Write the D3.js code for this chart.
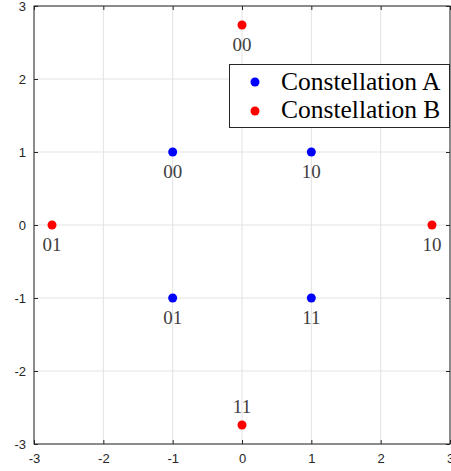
<!DOCTYPE html>
<html>
<head>
<meta charset="utf-8">
<script src="https://cdn.jsdelivr.net/npm/d3@7"></script>
<style>
  body { margin: 0; background: #fff; }
  svg { display: block; }
</style>
</head>
<body>
<div id="vis-container"></div>
<script>
// data
var seriesNames = ['Constellation A', 'Constellation B']
var seriesColors = ['#0000ff', '#ff0000']
var pointsA = [
  { x: -1, y: 1, label: '00' },
  { x: 1, y: 1, label: '10' },
  { x: -1, y: -1, label: '01' },
  { x: 1, y: -1, label: '11' }
]
var pointsB = [
  { x: 0, y: 2.74, label: '00', above: false },
  { x: -2.74, y: 0, label: '01', above: false },
  { x: 2.74, y: 0, label: '10', above: false },
  { x: 0, y: -2.74, label: '11', above: true }
]
var tickValues = [-3, -2, -1, 0, 1, 2, 3]

var W = 451, H = 471
var margin = { top: 6, right: 1, bottom: 27, left: 34 }
var w = W - margin.left - margin.right
var h = H - margin.top - margin.bottom

var xScale = d3.scaleLinear().domain([-3, 3]).range([0, w])
var yScale = d3.scaleLinear().domain([-3, 3]).range([h, 0])
var fmt = function (d) { return String(d) }

var svg = d3.select('#vis-container').append('svg')
    .attr('width', W)
    .attr('height', H)
  .append('g')
    .attr('transform', 'translate(' + margin.left + ',' + margin.top + ')')

// grid
svg.selectAll('.gx').data(tickValues).enter().append('line')
  .attr('x1', function (d) { return xScale(d) }).attr('x2', function (d) { return xScale(d) })
  .attr('y1', 0).attr('y2', h)
  .attr('stroke', '#e3e3e3').attr('stroke-width', 1)
svg.selectAll('.gy').data(tickValues).enter().append('line')
  .attr('y1', function (d) { return yScale(d) }).attr('y2', function (d) { return yScale(d) })
  .attr('x1', 0).attr('x2', w)
  .attr('stroke', '#e3e3e3').attr('stroke-width', 1)

// axes (box style, ticks inward)
function styleAxis(g) {
  g.select('.domain').remove()
  g.selectAll('.tick line').attr('stroke', '#262626')
  g.selectAll('.tick text').attr('fill', '#262626')
    .style('font-family', 'Liberation Sans, Arial, sans-serif').style('font-size', '13px')
}
svg.append('g').attr('transform', 'translate(0,' + h + ')')
  .call(d3.axisBottom(xScale).tickValues(tickValues).tickFormat(fmt).tickSizeInner(-4).tickSizeOuter(0).tickPadding(10))
  .call(styleAxis)
svg.append('g')
  .call(d3.axisLeft(yScale).tickValues(tickValues).tickFormat(fmt).tickSizeInner(-4).tickSizeOuter(0).tickPadding(8))
  .call(styleAxis)
svg.append('g')
  .call(d3.axisTop(xScale).tickValues(tickValues).tickSizeInner(-4).tickSizeOuter(0).tickFormat(''))
  .call(styleAxis)
svg.append('g').attr('transform', 'translate(' + w + ',0)')
  .call(d3.axisRight(yScale).tickValues(tickValues).tickSizeInner(-4).tickSizeOuter(0).tickFormat(''))
  .call(styleAxis)

svg.append('rect')
  .attr('x', 0).attr('y', 0).attr('width', w).attr('height', h)
  .attr('fill', 'none').attr('stroke', '#262626').attr('stroke-width', 1)

// points
function drawSeries(data, color) {
  svg.selectAll(null).data(data).enter().append('circle')
    .attr('cx', function (d) { return xScale(d.x) })
    .attr('cy', function (d) { return yScale(d.y) })
    .attr('r', 4.5)
    .attr('fill', color)
  svg.selectAll(null).data(data).enter().append('text')
    .attr('x', function (d) { return xScale(d.x) })
    .attr('y', function (d) { return yScale(d.y) + (d.above ? -12 : 26) })
    .attr('text-anchor', 'middle')
    .attr('fill', '#404040')
    .style('font-family', 'Liberation Serif, Times New Roman, serif')
    .style('font-size', '19px')
    .text(function (d) { return d.label })
}
drawSeries(pointsA, seriesColors[0])
drawSeries(pointsB, seriesColors[1])

// legend
var legend = svg.append('g').attr('transform', 'translate(' + (229 - margin.left) + ',' + (64 - margin.top) + ')')
legend.append('rect')
  .attr('x', 0.5).attr('y', 0.5).attr('width', 220).attr('height', 63)
  .attr('fill', '#fff').attr('stroke', '#262626').attr('stroke-width', 1)
seriesNames.forEach(function (name, i) {
  legend.append('circle').attr('cx', 26).attr('cy', 18 + i * 29).attr('r', 4.5).attr('fill', seriesColors[i])
  legend.append('text').attr('x', 52).attr('y', 26 + i * 28)
    .style('font-family', 'Liberation Serif, Times New Roman, serif')
    .style('font-size', '25.5px').attr('fill', '#000')
    .text(name)
})
</script>
</body>
</html>
